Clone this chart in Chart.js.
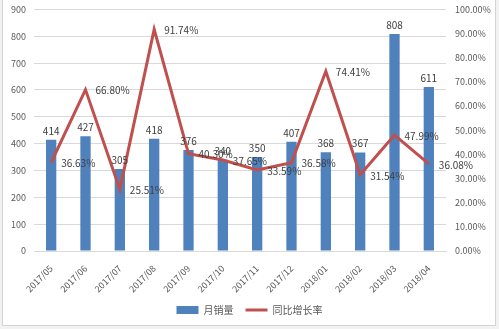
<!DOCTYPE html>
<html>
<head>
<meta charset="utf-8">
<script src="https://cdn.jsdelivr.net/npm/chart.js@4"></script>
<style>
  body { margin: 0; background: #f2f2f2; }
  #wrap { position: absolute; left: 0; top: -5px; width: 499px; height: 334px; }
  #frame { position: absolute; left: 2px; top: -2px; width: 492px; height: 326px;
           background: #fff; border: 1px solid #d4d4d4; }
  canvas { position: absolute; left: 0; top: 0; }
</style>
</head>
<body>
<div id="frame"></div>
<div id="wrap"><canvas id="myChart" width="499" height="334"></canvas></div>
<script>
const months = ['2017/05','2017/06','2017/07','2017/08','2017/09','2017/10','2017/11','2017/12','2018/01','2018/02','2018/03','2018/04']
const sales = [414, 427, 305, 418, 376, 340, 350, 407, 368, 367, 808, 611]
const growth = [36.63, 66.80, 25.51, 91.74, 40.30, 37.65, 33.59, 36.58, 74.41, 31.54, 47.99, 36.08]

const blue = '#4f81bd'
const red = '#c0504d'
const textColor = '#595959'
const font = '"Microsoft YaHei", "Noto Sans CJK SC", "DejaVu Sans", sans-serif'

// value labels above bars and to the right of line points
const valueLabels = {
    id: 'valueLabels',
    afterDatasetsDraw(chart) {
        const c = chart.ctx
        c.save()
        c.font = '10px ' + font
        c.fillStyle = '#404040'
        chart.getDatasetMeta(1).data.forEach((bar, i) => {
            c.textAlign = 'center'
            c.textBaseline = 'bottom'
            c.fillText(sales[i], bar.x, bar.y - 4)
        })
        chart.getDatasetMeta(0).data.forEach((pt, i) => {
            c.textAlign = 'left'
            c.textBaseline = 'middle'
            c.fillText(growth[i].toFixed(2) + '%', pt.x + 10, pt.y + 1)
        })
        c.restore()
    }
}

const ctx = document.getElementById('myChart')
const myChart = new Chart(ctx, {
    data: {
        labels: months,
        datasets: [{
            type: 'line',
            label: '同比增长率',
            data: growth,
            yAxisID: 'y1',
            borderColor: red,
            backgroundColor: red,
            borderWidth: 3,
            pointRadius: 0,
            tension: 0,
            order: 0
        }, {
            type: 'bar',
            label: '月销量',
            data: sales,
            yAxisID: 'y',
            backgroundColor: blue,
            categoryPercentage: 0.3,
            barPercentage: 1,
            order: 1
        }]
    },
    options: {
        responsive: false,
        animation: false,
        layout: { padding: { top: 4, bottom: 4, left: 0, right: 0 } },
        plugins: {
            tooltip: { enabled: false },
            legend: {
                position: 'bottom',
                reverse: true,
                labels: {
                    color: textColor,
                    font: { size: 10, family: font },
                    usePointStyle: true,
                    pointStyleWidth: 22,
                    boxHeight: 8,
                    padding: 12,
                    generateLabels(chart) {
                        return chart.data.datasets.map((ds, i) => ({
                            text: ds.label,
                            datasetIndex: i,
                            fillStyle: ds.type === 'bar' ? blue : red,
                            strokeStyle: ds.type === 'bar' ? blue : red,
                            lineWidth: ds.type === 'bar' ? 0 : 3,
                            pointStyle: ds.type === 'bar' ? 'rect' : 'line',
                            fontColor: textColor
                        }))
                    }
                }
            }
        },
        scales: {
            x: {
                grid: { display: false },
                border: { color: '#d9d9d9' },
                ticks: {
                    color: textColor,
                    font: { size: 9, family: font },
                    minRotation: 45,
                    maxRotation: 45,
                    autoSkip: false,
                    padding: 4
                },
                afterFit(s) { s.height = 42 }
            },
            y: {
                position: 'left',
                min: 0,
                max: 900,
                ticks: { stepSize: 100, color: textColor, font: { size: 9, family: font }, padding: 8 },
                grid: { color: '#d9d9d9', drawTicks: false },
                border: { display: false },
                afterFit(s) { s.width = 34 }
            },
            y1: {
                position: 'right',
                min: 0,
                max: 100,
                ticks: {
                    stepSize: 10,
                    color: textColor,
                    font: { size: 9, family: font },
                    padding: 9,
                    callback: v => v.toFixed(2) + '%'
                },
                grid: { display: false, drawTicks: false },
                border: { display: false },
                afterFit(s) { s.width = 53 }
            }
        }
    },
    plugins: [valueLabels]
})
</script>
</body>
</html>
